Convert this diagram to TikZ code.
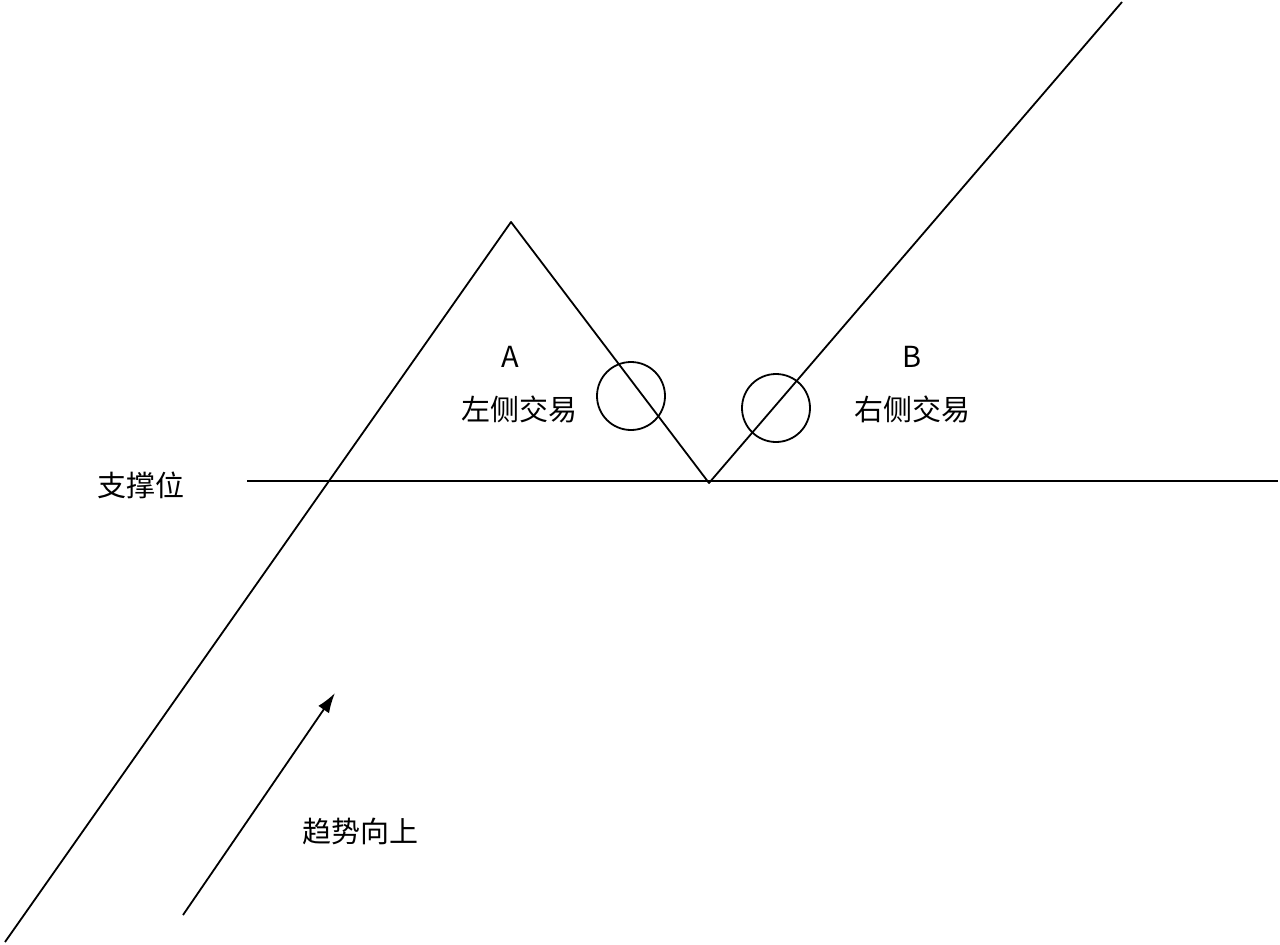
\documentclass[tikz,border=0pt]{standalone}
\usepackage{fontspec}
\setmainfont{Noto Sans CJK SC}
\usetikzlibrary{arrows.meta}
\begin{document}
\begin{tikzpicture}[x=1pt,y=-1pt,
  ln/.style={line width=1.8pt,black},
  lbl/.style={font=\fontsize{29}{34}\selectfont,inner sep=0pt}]
\useasboundingbox[fill=white] (0,0) rectangle (1280,945);
\coordinate (p0) at (5,942);
\coordinate (p1) at (511,222);
\coordinate (p2) at (709,483);
\coordinate (p3) at (1122,2);
\coordinate (s0) at (247,481);
\coordinate (s1) at (1278,481);
\coordinate (a0) at (183,915);
\coordinate (a1) at (335,693);
\draw[ln,line join=round] (p0) -- (p1) -- (p2) -- (p3);
\draw[ln] (s0) -- (s1);
\node[ln,draw,circle,minimum size=68pt,inner sep=0pt] (c1) at (631,396) {};
\node[ln,draw,circle,minimum size=68pt,inner sep=0pt] (c2) at (776,408) {};
\draw[ln,-{Latex[length=20pt,width=13pt]}] (a0) -- (a1);
\node[lbl] (A) at (510,357) {A};
\node[lbl] (lt) at (519,409) {左侧交易};
\node[lbl] (B) at (912,357) {B};
\node[lbl] (rt) at (912,409) {右侧交易};
\node[lbl] (sup) at (141,485) {支撑位};
\node[lbl] (tr) at (360,831) {趋势向上};
\end{tikzpicture}
\end{document}
